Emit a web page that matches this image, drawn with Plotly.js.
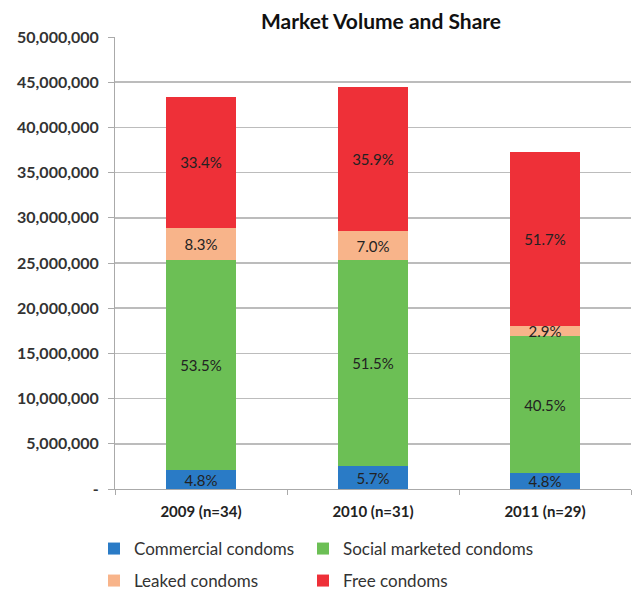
<!DOCTYPE html>
<html>
<head>
<meta charset="utf-8">
<script src="https://cdn.plot.ly/plotly-3.0.1.min.js"></script>
<style>html,body{margin:0;padding:0;background:#fff;}#chart{width:632px;height:593px;}</style>
</head>
<body>
<div id="chart"></div>
<script>
// Data
var categories = ['2009 (n=34)', '2010 (n=31)', '2011 (n=29)'];
var commercial = [2080000, 2530000, 1790000];
var socialMarketed = [23220000, 22850000, 15110000];
var leaked = [3600000, 3110000, 1080000];
var free = [14500000, 15930000, 19290000];
var commercialPct = ['4.8%', '5.7%', '4.8%'];
var socialPct = ['53.5%', '51.5%', '40.5%'];
var leakedPct = ['8.3%', '7.0%', '2.9%'];
var freePct = ['33.4%', '35.9%', '51.7%'];
var seriesNames = ['Commercial condoms', 'Social marketed condoms', 'Leaked condoms', 'Free condoms'];
var yTickVals = [0, 5000000, 10000000, 15000000, 20000000, 25000000, 30000000, 35000000, 40000000, 45000000, 50000000];
var yTickText = ['-', '5,000,000', '10,000,000', '15,000,000', '20,000,000', '25,000,000', '30,000,000', '35,000,000', '40,000,000', '45,000,000', '50,000,000'];

var FONT = 'Lato, "Open Sans", sans-serif';
var colors = ['#2a7bc6', '#6cbf55', '#f8b48a', '#ee3038'];
var series = [commercial, socialMarketed, leaked, free];
var texts = [commercialPct, socialPct, leakedPct, freePct];
var legendIds = ['legend', 'legend2', 'legend3', 'legend4'];

var traces = series.map(function (vals, i) {
  return {
    type: 'bar',
    name: seriesNames[i],
    x: categories,
    y: vals,
    text: texts[i],
    textposition: 'inside',
    insidetextanchor: 'middle',
    textangle: 0,
    textfont: {family: FONT, size: 15, color: '#222'},
    marker: {color: colors[i]},
    legend: legendIds[i],
    hoverinfo: 'x+y+name'
  };
});

function legendAt(xc, yc) {
  return {
    xref: 'container', yref: 'container',
    x: xc, y: yc, xanchor: 'left', yanchor: 'middle',
    bgcolor: 'rgba(0,0,0,0)',
    font: {family: FONT, size: 17, color: '#333'},
    itemwidth: 30
  };
}

var layout = {
  width: 632, height: 593,
  paper_bgcolor: '#fff', plot_bgcolor: '#fff',
  margin: {l: 115, r: 1, t: 37, b: 104, autoexpand: false},
  barmode: 'stack',
  bargap: 0.593,
  showlegend: true,
  uniformtext: {mode: 'show', minsize: 15},
  title: {
    text: '<b>Market Volume and Share</b>',
    font: {family: FONT, size: 21, color: '#111'},
    xref: 'container', yref: 'container',
    x: 381 / 632, y: 1 - 22 / 593, xanchor: 'center', yanchor: 'middle'
  },
  xaxis: {
    type: 'category',
    tickson: 'boundaries',
    ticks: 'outside', ticklen: 5, tickcolor: '#aaa',
    showline: true, linecolor: '#aaa', linewidth: 1,
    showgrid: false,
    tickangle: 0,
    automargin: false,
    ticklabelstandoff: 9,
    tickfont: {family: FONT, size: 15, color: '#222', weight: 'bold'}
  },
  yaxis: {
    range: [0, 50000000],
    tickvals: yTickVals, ticktext: yTickText,
    ticks: 'outside', ticklen: 6, tickcolor: '#aaa',
    showline: true, linecolor: '#aaa', linewidth: 1,
    showgrid: true, gridcolor: '#bcbcbc', gridwidth: 1.5,
    zeroline: false,
    automargin: false,
    ticklabelstandoff: 6,
    tickfont: {family: FONT, size: 16, color: '#333', weight: 'bold'}
  },
  legend: legendAt(94 / 632, 1 - 549 / 593),
  legend2: legendAt(303 / 632, 1 - 549 / 593),
  legend3: legendAt(94 / 632, 1 - 581 / 593),
  legend4: legendAt(303 / 632, 1 - 581 / 593)
};

Plotly.newPlot('chart', traces, layout, {displayModeBar: false, staticPlot: true});
</script>
</body>
</html>
